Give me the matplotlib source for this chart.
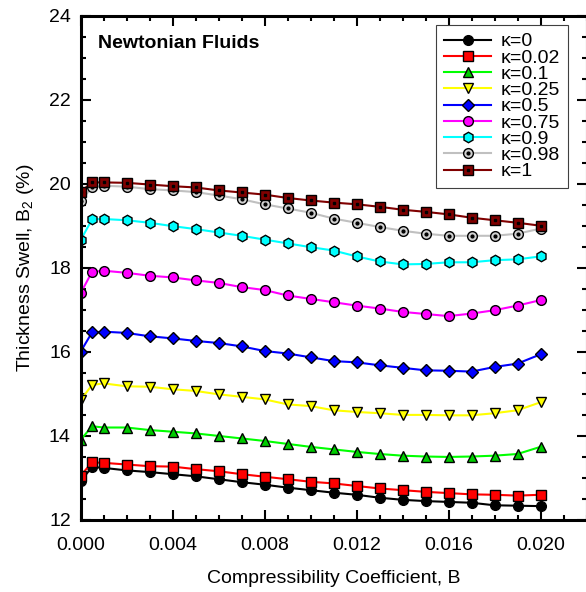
import matplotlib
matplotlib.use("Agg")
import matplotlib.pyplot as plt
from matplotlib.ticker import MultipleLocator, FormatStrFormatter
from matplotlib.legend_handler import HandlerTuple

plt.rcParams["font.family"] = ["Liberation Sans", "DejaVu Sans"]
plt.rcParams["mathtext.fontset"] = "custom"
plt.rcParams["mathtext.rm"] = "Liberation Sans"
plt.rcParams["mathtext.it"] = "Liberation Sans:italic"

B = [0.0, 0.0005, 0.001, 0.002, 0.003, 0.004, 0.005, 0.006, 0.007, 0.008, 0.009,
     0.010, 0.011, 0.012, 0.013, 0.014, 0.015, 0.016, 0.017, 0.018, 0.019, 0.020]

k0 = [12.92, 13.26, 13.24, 13.18, 13.14, 13.09, 13.04, 12.97, 12.90, 12.84, 12.77,
      12.71, 12.65, 12.60, 12.53, 12.48, 12.45, 12.43, 12.41, 12.35, 12.34, 12.33]
k002 = [13.05, 13.37, 13.36, 13.32, 13.28, 13.27, 13.21, 13.16, 13.09, 13.03, 12.97,
        12.91, 12.87, 12.81, 12.75, 12.71, 12.67, 12.64, 12.61, 12.60, 12.58, 12.60]
k01 = [13.90, 14.23, 14.20, 14.20, 14.14, 14.10, 14.06, 14.00, 13.94, 13.88, 13.81,
       13.74, 13.68, 13.62, 13.57, 13.53, 13.51, 13.50, 13.51, 13.53, 13.57, 13.74]
k025 = [14.85, 15.21, 15.25, 15.18, 15.17, 15.11, 15.07, 14.99, 14.93, 14.87, 14.75,
        14.71, 14.61, 14.57, 14.54, 14.50, 14.50, 14.49, 14.49, 14.54, 14.61, 14.80]
k05 = [16.00, 16.46, 16.48, 16.45, 16.37, 16.32, 16.26, 16.21, 16.13, 16.02, 15.96,
       15.87, 15.78, 15.75, 15.68, 15.62, 15.56, 15.55, 15.53, 15.64, 15.72, 15.94]
k075 = [17.39, 17.90, 17.93, 17.88, 17.81, 17.77, 17.70, 17.64, 17.54, 17.47, 17.34,
        17.26, 17.18, 17.10, 17.03, 16.95, 16.90, 16.85, 16.91, 16.99, 17.10, 17.23]
k09 = [18.65, 19.15, 19.16, 19.13, 19.07, 18.99, 18.92, 18.84, 18.76, 18.67, 18.58,
       18.49, 18.41, 18.27, 18.15, 18.08, 18.09, 18.13, 18.13, 18.18, 18.20, 18.27]
k098 = [19.59, 19.91, 19.95, 19.93, 19.87, 19.84, 19.80, 19.72, 19.63, 19.51, 19.41,
        19.31, 19.17, 19.07, 18.97, 18.88, 18.81, 18.76, 18.76, 18.76, 18.81, 18.93]
k1 = [19.80, 20.03, 20.03, 20.02, 19.98, 19.94, 19.91, 19.84, 19.79, 19.74, 19.66,
      19.60, 19.55, 19.51, 19.45, 19.38, 19.33, 19.27, 19.19, 19.13, 19.07, 19.00]

labels = ['κ=0', 'κ=0.02', 'κ=0.1', 'κ=0.25', 'κ=0.5', 'κ=0.75', 'κ=0.9', 'κ=0.98', 'κ=1']

fig = plt.figure(figsize=(5.86, 5.92), dpi=100)
ax = fig.add_axes([80.5 / 586, 72 / 592, 506 / 586, 504.5 / 592])

ms = 7
lw = 1.5
handles = []
h, = ax.plot(B, k0, '-o', color='black', mfc='black', mec='black', ms=ms, lw=lw)
handles.append(h)
h, = ax.plot(B, k002, '-s', color='red', mfc='red', mec='black', ms=ms, lw=lw)
handles.append(h)
h, = ax.plot(B, k01, '-^', color='#00ff00', mfc='#00cc00', mec='black', ms=ms, lw=lw)
handles.append(h)
h, = ax.plot(B, k025, '-v', color='#ffff00', mfc='#ffff00', mec='black', ms=ms, lw=lw)
handles.append(h)
h, = ax.plot(B, k05, '-D', color='#0000ff', mfc='#0000ff', mec='black', ms=6.5, lw=lw)
handles.append(h)
h, = ax.plot(B, k075, '-o', color='#ff00ff', mfc='#ff00ff', mec='black', ms=ms, lw=lw)
handles.append(h)
h, = ax.plot(B, k09, '-h', color='#00ffff', mfc='#00ffff', mec='black', ms=ms + 0.5, lw=lw)
handles.append(h)
h1, = ax.plot(B, k098, '-o', color='#c0c0c0', mfc='#d0d0d0', mec='black', ms=ms, lw=lw)
h2, = ax.plot(B, k098, 'o', mfc='black', mec='black', ms=2)
handles.append((h1, h2))
h1, = ax.plot(B, k1, '-s', color='#800000', mfc='#800000', mec='black', ms=ms, lw=lw)
h2, = ax.plot(B, k1, 's', mfc='black', mec='black', ms=2)
handles.append((h1, h2))

ax.set_xlim(0, 0.022)
ax.set_ylim(12, 24)
ax.xaxis.set_major_locator(MultipleLocator(0.004))
ax.xaxis.set_minor_locator(MultipleLocator(0.001))
ax.xaxis.set_major_formatter(FormatStrFormatter('%.3f'))
ax.yaxis.set_major_locator(MultipleLocator(2))
ax.yaxis.set_minor_locator(MultipleLocator(0.5))
ax.tick_params(which='both', direction='in', top=True, right=True, width=1.5, labelsize=14)
ax.tick_params(which='major', length=7)
ax.tick_params(which='minor', length=3.5)
ax.tick_params(axis='x', pad=12)
ax.tick_params(axis='y', pad=7)
for s in ax.spines.values():
    s.set_linewidth(2.2)

ax.set_xlabel('Compressibility Coefficient, B', fontsize=14, labelpad=12)
ax.set_ylabel('Thickness Swell, B$_\\mathregular{2}$ (%)', fontsize=14, labelpad=9)
ax.text(0.035, 0.945, 'Newtonian Fluids', transform=ax.transAxes, fontsize=14,
        fontweight='bold', va='center', ha='left')

leg = ax.legend(handles, labels, loc='upper right', bbox_to_anchor=(0.963, 0.981),
                borderaxespad=0, fontsize=14, labelspacing=-0.07, handlelength=2.4,
                handletextpad=0.5, fancybox=False, framealpha=1, edgecolor='#404040',
                handler_map={tuple: HandlerTuple(ndivide=1)})
leg.get_frame().set_linewidth(0.8)

plt.savefig('out.png', dpi=100)
plt.close()
